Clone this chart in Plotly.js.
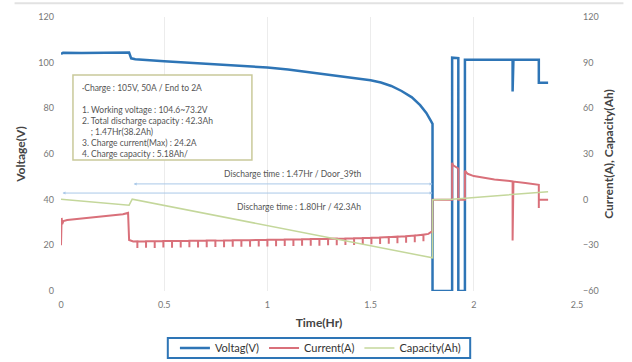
<!DOCTYPE html>
<html><head><meta charset="utf-8">
<script src="https://cdn.plot.ly/plotly-3.0.1.min.js"></script>
<style>html,body{margin:0;padding:0;background:#fff}#chart{width:632px;height:362px}</style>
</head><body><div id="chart"></div>
<script>
// ---- Voltage (left axis) ----
const voltT = [0, 0.01, 0.1, 0.2, 0.3, 0.33, 0.34, 0.36, 0.5, 0.7, 0.9, 1.0, 1.1, 1.2, 1.3, 1.4, 1.5, 1.55, 1.6, 1.65, 1.7, 1.74, 1.77, 1.79, 1.8, 1.8, 1.895, 1.895, 1.925, 1.925, 1.957, 1.957, 2.0, 2.188, 2.188, 2.192, 2.315, 2.315, 2.36];
const voltV = [103.8, 104.3, 104.2, 104.3, 104.4, 104.4, 101.9, 101.5, 100.6, 99.6, 98.5, 97.9, 97.0, 95.8, 94.6, 93.5, 92.3, 91.3, 89.8, 87.6, 84.8, 81.4, 78.0, 74.8, 73.2, 0, 0, 102.2, 102.0, 0, 0, 101.3, 101.3, 101.3, 87.4, 101.3, 101.3, 91.2, 91.2];

// ---- Current (right axis) ----
const curStartT = [0, 0.003, 0.006, 0.012, 0.03, 0.06, 0.1, 0.15, 0.2, 0.25, 0.3, 0.325, 0.33, 0.35];
const curStartA = [-30, -12, -16, -14, -13.4, -13.0, -12.6, -11.9, -11.3, -10.6, -9.6, -8.7, -26.5, -27.5];
const spikeT = [0.37, 0.412, 0.454, 0.496, 0.538, 0.58, 0.622, 0.664, 0.706, 0.748, 0.79, 0.832, 0.874, 0.916, 0.958, 1.0, 1.042, 1.084, 1.126, 1.168, 1.21, 1.252, 1.294, 1.336, 1.378, 1.42, 1.462, 1.504, 1.546, 1.588, 1.63, 1.672, 1.714, 1.756];
const spikeBase = [-27.4, -27.3, -27.3, -27.2, -27.2, -27.1, -27.0, -27.0, -26.9, -26.9, -26.8, -26.7, -26.7, -26.6, -26.5, -26.4, -26.3, -26.2, -26.1, -26.0, -25.9, -25.8, -25.7, -25.6, -25.5, -25.4, -25.2, -25.0, -24.8, -24.6, -24.3, -24.0, -23.6, -23.0];
const spikeDip = [-31.8, -31.6, -31.7, -31.5, -31.6, -31.4, -31.3, -31.4, -31.2, -31.1, -31.2, -31.0, -31.0, -30.9, -30.8, -30.8, -30.6, -30.5, -30.5, -30.3, -30.2, -30.2, -30.0, -29.9, -29.8, -29.7, -29.5, -29.3, -29.1, -28.9, -28.6, -28.3, -27.9, -27.3];
const curEndT = [1.78, 1.795, 1.8, 1.8, 1.895, 1.895, 1.9, 1.925, 1.925, 1.957, 1.957, 1.97, 2.0, 2.05, 2.1, 2.15, 2.188, 2.188, 2.192, 2.25, 2.315, 2.315, 2.315, 2.36];
const curEndA = [-22.5, -21.0, -21.5, 0, 0, 24.2, 22.5, 20.5, 0, 0, 19.0, 17.0, 15.5, 14.3, 13.3, 12.6, 12.0, -26.8, 11.9, 11.0, 9.8, -5.5, 0, 0];

// ---- Capacity (right axis) ----
const capT = [0, 0.33, 0.345, 1.8, 1.8, 1.895, 2.36];
const capAh = [0.3, -3.6, 0.3, -38.2, 0, 0.3, 5.2];

// ---- labels ----
const seriesNames = ['Voltag(V)', 'Current(A)', 'Capacity(Ah)'];
const noteLines = ['·Charge : 105V, 50A / End to 2A', '', '1. Working voltage : 104.6~73.2V', '2. Total discharge capacity : 42.3Ah', '    ; 1.47Hr(38.2Ah)', '3. Charge current(Max) : 24.2A', '4. Charge capacity : 5.18Ah/'];
const arrowText1 = 'Discharge time : 1.47Hr / Door_39th';
const arrowText2 = 'Discharge time : 1.80Hr / 42.3Ah';

// build current line
const curT = curStartT.slice(), curA = curStartA.slice();
spikeT.forEach((t, i) => { curT.push(t, t, t); curA.push(spikeBase[i], spikeDip[i], spikeBase[i]); });
curEndT.forEach((t, i) => { curT.push(t); curA.push(curEndA[i]); });

const font = 'Lato, "Open Sans", sans-serif';
const traces = [
  {x: voltT, y: voltV, name: seriesNames[0], mode: 'lines', line: {color: '#2e75b6', width: 2.5}, yaxis: 'y'},
  {x: curT, y: curA, name: seriesNames[1], mode: 'lines', line: {color: '#d9707a', width: 2}, yaxis: 'y2'},
  {x: capT, y: capAh, name: seriesNames[2], mode: 'lines', line: {color: '#c4d79b', width: 1.5}, yaxis: 'y2'}
];

const layout = {
  width: 632, height: 362,
  margin: {l: 61, r: 55, t: 17, b: 71},
  paper_bgcolor: '#fff', plot_bgcolor: '#fff',
  font: {family: font, color: '#555'},
  showlegend: true,
  legend: {orientation: 'h', xref: 'container', yref: 'container', x: 0.507, xanchor: 'center', y: 0.039, yanchor: 'middle',
    borderwidth: 0, bgcolor: 'rgba(0,0,0,0)', tracegroupgap: 0, itemwidth: 30,
    font: {size: 11, color: '#333', family: font}},
  xaxis: {range: [0, 2.5], tickvals: [0, 0.5, 1, 1.5, 2, 2.5], ticktext: ['0', '0.5', '1', '1.5', '2', '2.5'],
    showgrid: true, gridcolor: '#ececec', zeroline: false, showline: false, ticks: '', automargin: false,
    ticklabelstandoff: 7, tickfont: {size: 9, color: '#777'},
    title: {text: '<b>Time(Hr)</b>', font: {size: 12, color: '#444'}, standoff: 9}},
  yaxis: {range: [0, 120], tickvals: [0, 20, 40, 60, 80, 100, 120], showgrid: false, zeroline: false, showline: false, ticks: '', automargin: false,
    ticklabelstandoff: 6, tickfont: {size: 9, color: '#777'},
    title: {text: '<b>Voltage(V)</b>', font: {size: 12, color: '#444'}, standoff: 10}},
  yaxis2: {range: [-60, 120], tickvals: [-60, -30, 0, 30, 60, 90, 120], overlaying: 'y', side: 'right', automargin: false,
    showgrid: false, zeroline: false, showline: false, ticks: '',
    ticklabelstandoff: 5, tickfont: {size: 9, color: '#777'},
    title: {text: '<b>Current(A), Capacity(Ah)</b>', font: {size: 12, color: '#444'}, standoff: 6}},
  shapes: [
    {type: 'rect', xref: 'x', yref: 'y', x0: 0.058, x1: 0.925, y0: 57.4, y1: 94.6,
      line: {color: '#c9c99a', width: 1.5}, fillcolor: '#fff', layer: 'above'},
    {type: 'rect', xref: 'paper', yref: 'paper', x0: 0.207, x1: 0.793, y0: -0.1715, y1: -0.2445,
      line: {color: '#2e75b6', width: 2}, fillcolor: 'rgba(0,0,0,0)'},
    {type: 'line', xref: 'paper', yref: 'paper', x0: -0.09, x1: 1.09, y0: 1.05, y1: 1.05, line: {color: '#e2e2e2', width: 2}}
  ],
  annotations: [
    {xref: 'x', yref: 'y', x: 0.09, y: 92, xanchor: 'left', yanchor: 'top', align: 'left', showarrow: false,
      text: noteLines.join('<br>'), font: {size: 8.5, color: '#555', family: font}},
    {xref: 'x', yref: 'y', axref: 'x', ayref: 'y', x: 1.8, y: 46.9, ax: 0.345, ay: 46.9, text: '',
      showarrow: true, arrowhead: 2, startarrowhead: 2, arrowside: 'end+start', arrowsize: 0.6, arrowwidth: 1, arrowcolor: '#a9c8e8'},
    {xref: 'x', yref: 'y', axref: 'x', ayref: 'y', x: 1.8, y: 42.9, ax: 0, ay: 42.9, text: '',
      showarrow: true, arrowhead: 2, startarrowhead: 2, arrowside: 'end+start', arrowsize: 0.6, arrowwidth: 1, arrowcolor: '#a9c8e8'},
    {xref: 'x', yref: 'y', x: 1.125, y: 51.2, text: arrowText1, showarrow: false, font: {size: 8.5, color: '#555', family: font}},
    {xref: 'x', yref: 'y', x: 1.155, y: 36.8, text: arrowText2, showarrow: false, font: {size: 8.5, color: '#555', family: font}}
  ]
};

Plotly.newPlot('chart', traces, layout, {displayModeBar: false, staticPlot: true});
</script></body></html>
